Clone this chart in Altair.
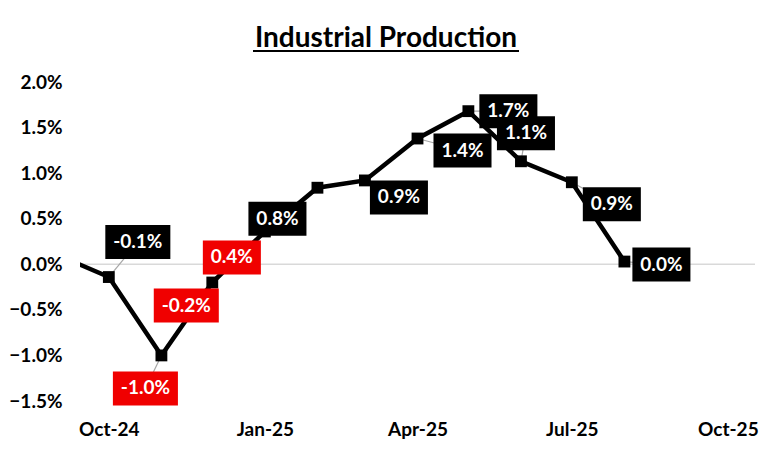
import altair as alt
import pandas as pd

# ---- data ----
months = ["2024-09-01", "2024-10-01", "2024-11-01", "2024-12-01", "2025-01-01",
          "2025-02-01", "2025-03-01", "2025-04-01", "2025-05-01", "2025-06-01",
          "2025-07-01", "2025-08-01"]
values = [0.10, -0.14, -1.00, -0.20, 0.36, 0.84, 0.92, 1.38, 1.68, 1.13, 0.90, 0.03]
tick_dates = ["2024-10-01", "2025-01-01", "2025-04-01", "2025-07-01", "2025-10-01"]
y_ticks = [-1.5, -1.0, -0.5, 0.0, 0.5, 1.0, 1.5, 2.0]
title_text = "Industrial Production"

# ---- layout / style config (label placement like the hand-placed Excel labels) ----
label_offsets = {  # pixel offsets of label box centre from marker
    "2024-10-01": (29, -35), "2024-11-01": (-16, 33), "2024-12-01": (-26, 23),
    "2025-01-01": (-33, 26), "2025-02-01": (-40, 31), "2025-03-01": (34, 17),
    "2025-04-01": (45, 12), "2025-05-01": (40, 0), "2025-06-01": (5, -28),
    "2025-07-01": (40, 22), "2025-08-01": (37, 3),
}
red_boxes = {"2024-11-01", "2024-12-01", "2025-01-01"}
RED = "#F00000"
FONT = "Lato"

df = pd.DataFrame({"date": months, "value": values})
lab = df[df["date"].isin(label_offsets.keys())].copy()
lab["dx"] = [label_offsets[d][0] for d in lab["date"]]
lab["dy"] = [label_offsets[d][1] for d in lab["date"]]
lab["label"] = [f"{v:.1f}%" for v in lab["value"]]
lab["box"] = ["red" if d in red_boxes else "black" for d in lab["date"]]


def box_path(text):
    hw = (32.5 if text.startswith("-") else 29.0) / 35.0
    hh = 17.0 / 35.0
    return f"M{-hw:.3f},{-hh:.3f}H{hw:.3f}V{hh:.3f}H{-hw:.3f}Z"


lab["shape"] = [box_path(t) for t in lab["label"]]

x_scale = alt.Scale(domain=[pd.Timestamp("2024-09-14").isoformat(),
                            pd.Timestamp("2025-10-17").isoformat()])
y_scale = alt.Scale(domain=[-1.5, 2.0], nice=False, zero=False)

x_enc = alt.X("date:T", scale=x_scale,
              axis=alt.Axis(values=tick_dates, format="%b-%y", title=None, grid=False,
                            domain=False, ticks=False, labelFont=FONT, labelFontSize=19,
                            labelFontWeight="bold", labelColor="#000000", labelPadding=19,
                            labelOverlap=False, labelFlush=False))
y_enc = alt.Y("value:Q", scale=y_scale,
              axis=alt.Axis(values=y_ticks, labelExpr="format(datum.value, '.1f') + '%'",
                            title=None, grid=False, domain=False, ticks=False,
                            labelFont=FONT, labelFontSize=19, labelFontWeight="bold",
                            labelColor="#000000", labelPadding=18))

DX = alt.expr("datum.dx")
DY = alt.expr("datum.dy")

zero = alt.Chart(pd.DataFrame({"value": [0.0]})).mark_rule(
    color="#d9d9d9", strokeWidth=1.5).encode(y=y_enc)

leaders = alt.Chart(lab).mark_rule(color="#a6a6a6", strokeWidth=1.2, xOffset=DX, yOffset=DY).encode(
    x=x_enc, x2="date:T", y=y_enc, y2="value:Q")

line = alt.Chart(df).mark_line(color="#000000", strokeWidth=4.5, clip=True).encode(x=x_enc, y=y_enc)

markers = alt.Chart(lab).mark_point(shape="square", filled=True, size=140, color="#000000",
                                    opacity=1).encode(x=x_enc, y=y_enc)

boxes = alt.Chart(lab).mark_point(filled=True, size=4900, opacity=1, strokeWidth=0,
                                  xOffset=DX, yOffset=DY).encode(
    x=x_enc, y=y_enc,
    shape=alt.Shape("shape:N", scale=None),
    color=alt.Color("box:N", scale=alt.Scale(domain=["black", "red"], range=["#000000", RED]),
                    legend=None))

texts = alt.Chart(lab).mark_text(font=FONT, fontSize=19, fontWeight="bold", color="#ffffff",
                                 baseline="middle", align="center", dx=DX, dy=DY).encode(
    x=x_enc, y=y_enc, text="label:N")

title_mark = alt.Chart(pd.DataFrame({"t": [title_text]})).mark_text(
    font=FONT, fontSize=28, fontWeight="bold", color="#000000",
    align="center", baseline="alphabetic").encode(
    x=alt.value(306), y=alt.value(-35), text="t:N")

underline = alt.Chart(pd.DataFrame({"u": [0]})).mark_rule(color="#000000", strokeWidth=2).encode(
    x=alt.value(173), x2=alt.value(439), y=alt.value(-31))

chart = alt.layer(zero, leaders, line, markers, boxes, texts, title_mark, underline).properties(
    width=675, height=319,
    autosize=alt.AutoSizeParams(type="none"),
    padding={"left": 72, "top": 74, "right": 9, "bottom": 40},
    background="#ffffff",
).configure_view(stroke=None)

chart.save("out.html", embed_options={"renderer": "svg", "actions": False})
